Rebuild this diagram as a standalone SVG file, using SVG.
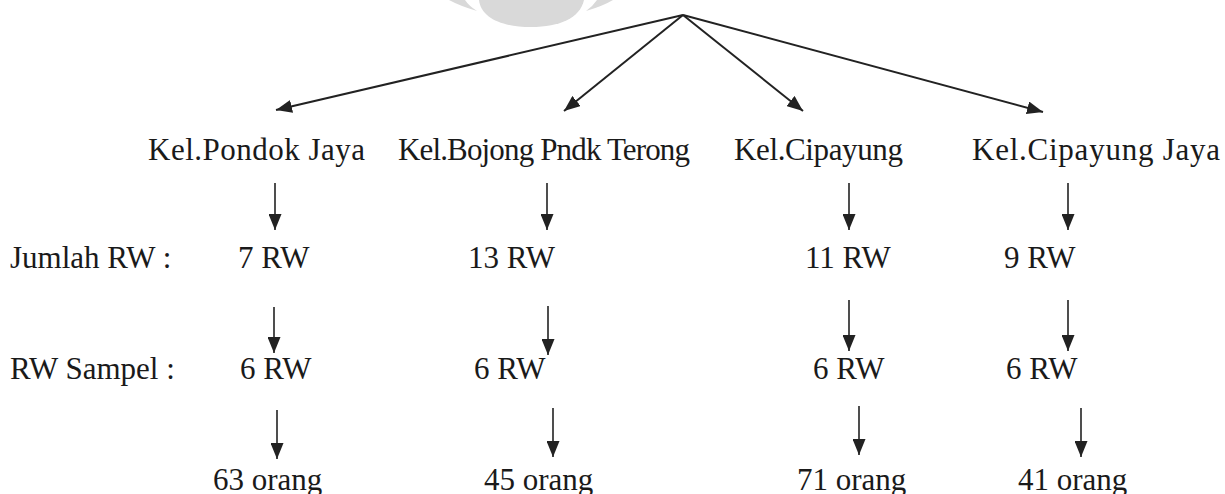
<svg xmlns="http://www.w3.org/2000/svg" width="1225" height="494" viewBox="0 0 1225 494">
  <style>
    .t { font-family: "Liberation Serif", "Times New Roman", serif; font-size: 31px; fill: #1a1a1a; }
    .c { stroke: #222; stroke-width: 2; fill: none; marker-end: url(#ah); }
    .v { stroke: #222; stroke-width: 1.6; fill: none; marker-end: url(#ah); }
    .wm { fill: #d9d9d9; }
  </style>
  <defs>
    <marker id="ah" markerUnits="userSpaceOnUse" markerWidth="17" markerHeight="13" refX="16" refY="6.5" orient="auto">
      <path d="M0,0 L16,6.5 L0,13 Z" fill="#222"/>
    </marker>
  </defs>

  <!-- faint emblem at the top edge -->
  <g id="emblem">
    <path class="wm" d="M479,0 C481,18 502,27 531,27 C560,27 580,18 584,0 Z"/>
    <path class="wm" d="M449,0 L465,0 Q469,6 477,11 Q460,6 449,0 Z"/>
    <path class="wm" d="M613,0 L597,0 Q593,6 586,11 Q603,6 613,0 Z"/>
  </g>

  <!-- connectors -->
  <g id="connectors">
    <line class="c" x1="683" y1="15" x2="276" y2="110"/>
    <line class="c" x1="683" y1="15" x2="564" y2="111"/>
    <line class="c" x1="683" y1="15" x2="803" y2="111"/>
    <line class="c" x1="683" y1="15" x2="1043" y2="112"/>

    <line class="v" x1="275" y1="183" x2="275" y2="230"/>
    <line class="v" x1="547" y1="183" x2="547" y2="230"/>
    <line class="v" x1="849" y1="183" x2="849" y2="230"/>
    <line class="v" x1="1068" y1="183" x2="1068" y2="230"/>

    <line class="v" x1="274" y1="307" x2="274" y2="353"/>
    <line class="v" x1="548" y1="306" x2="548" y2="355"/>
    <line class="v" x1="849" y1="300" x2="849" y2="351"/>
    <line class="v" x1="1068" y1="300" x2="1068" y2="351"/>

    <line class="v" x1="277" y1="410" x2="277" y2="459"/>
    <line class="v" x1="553" y1="408" x2="553" y2="457"/>
    <line class="v" x1="859" y1="406" x2="859" y2="455"/>
    <line class="v" x1="1081" y1="408" x2="1081" y2="457"/>
  </g>

  <!-- row labels -->
  <g id="label-jumlah"><text class="t" x="10" y="268">Jumlah RW :</text></g>
  <g id="label-sampel"><text class="t" x="10" y="379">RW Sampel :</text></g>

  <!-- Kel. Pondok Jaya -->
  <g id="pondok-jaya">
    <text class="t" x="148" y="160" textLength="217">Kel.Pondok Jaya</text>
    <text class="t" x="238" y="268">7 RW</text>
    <text class="t" x="240" y="379">6 RW</text>
    <text class="t" x="213" y="490">63 orang</text>
  </g>

  <!-- Kel. Bojong Pondok Terong -->
  <g id="bojong">
    <text class="t" x="398" y="160" textLength="292">Kel.Bojong Pndk Terong</text>
    <text class="t" x="468" y="268">13 RW</text>
    <text class="t" x="474" y="379">6 RW</text>
    <text class="t" x="484" y="490">45 orang</text>
  </g>

  <!-- Kel. Cipayung -->
  <g id="cipayung">
    <text class="t" x="734" y="160" textLength="169">Kel.Cipayung</text>
    <text class="t" x="805" y="268">11 RW</text>
    <text class="t" x="813" y="379">6 RW</text>
    <text class="t" x="797" y="490">71 orang</text>
  </g>

  <!-- Kel. Cipayung Jaya -->
  <g id="cipayung-jaya">
    <text class="t" x="972" y="160" textLength="248">Kel.Cipayung Jaya</text>
    <text class="t" x="1004" y="268">9 RW</text>
    <text class="t" x="1006" y="379">6 RW</text>
    <text class="t" x="1018" y="490">41 orang</text>
  </g>
</svg>
